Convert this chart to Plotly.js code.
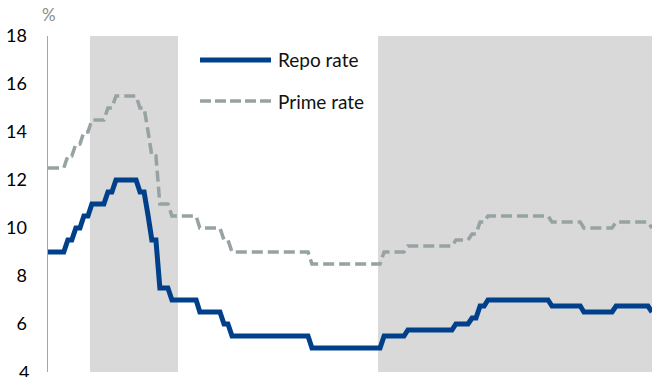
<!DOCTYPE html>
<html>
<head>
<meta charset="utf-8">
<script src="https://cdn.plot.ly/plotly-3.0.1.min.js"></script>
<style>
  html, body { margin: 0; padding: 0; background: #fff; }
  #chart { width: 652px; height: 377px; }
</style>
</head>
<body>
<div id="chart"></div>
<script>
// Monthly series, Jan 2007 – Aug 2019
var startYear = 2007, startMonth = 1;

var repoRate = [
  // 2007
  9, 9, 9, 9, 9, 9.5, 9.5, 10, 10, 10.5, 10.5, 11,
  // 2008
  11, 11, 11, 11.5, 11.5, 12, 12, 12, 12, 12, 12, 11.5,
  // 2009
  11.5, 10.5, 9.5, 9.5, 7.5, 7.5, 7.5, 7, 7, 7, 7, 7,
  // 2010
  7, 7, 6.5, 6.5, 6.5, 6.5, 6.5, 6.5, 6, 6, 5.5, 5.5,
  // 2011
  5.5, 5.5, 5.5, 5.5, 5.5, 5.5, 5.5, 5.5, 5.5, 5.5, 5.5, 5.5,
  // 2012
  5.5, 5.5, 5.5, 5.5, 5.5, 5.5, 5, 5, 5, 5, 5, 5,
  // 2013
  5, 5, 5, 5, 5, 5, 5, 5, 5, 5, 5, 5,
  // 2014
  5.5, 5.5, 5.5, 5.5, 5.5, 5.5, 5.75, 5.75, 5.75, 5.75, 5.75, 5.75,
  // 2015
  5.75, 5.75, 5.75, 5.75, 5.75, 5.75, 6, 6, 6, 6, 6.25, 6.25,
  // 2016
  6.75, 6.75, 7, 7, 7, 7, 7, 7, 7, 7, 7, 7,
  // 2017
  7, 7, 7, 7, 7, 7, 6.75, 6.75, 6.75, 6.75, 6.75, 6.75,
  // 2018
  6.75, 6.75, 6.5, 6.5, 6.5, 6.5, 6.5, 6.5, 6.5, 6.5, 6.75, 6.75,
  // 2019
  6.75, 6.75, 6.75, 6.75, 6.75, 6.75, 6.75, 6.5
];

var primeRate = [
  // 2007
  12.5, 12.5, 12.5, 12.5, 12.5, 13, 13, 13.5, 13.5, 14, 14, 14.5,
  // 2008
  14.5, 14.5, 14.5, 15, 15, 15.5, 15.5, 15.5, 15.5, 15.5, 15.5, 15,
  // 2009
  15, 14, 13, 13, 11, 11, 11, 10.5, 10.5, 10.5, 10.5, 10.5,
  // 2010
  10.5, 10.5, 10, 10, 10, 10, 10, 10, 9.5, 9.5, 9, 9,
  // 2011
  9, 9, 9, 9, 9, 9, 9, 9, 9, 9, 9, 9,
  // 2012
  9, 9, 9, 9, 9, 9, 8.5, 8.5, 8.5, 8.5, 8.5, 8.5,
  // 2013
  8.5, 8.5, 8.5, 8.5, 8.5, 8.5, 8.5, 8.5, 8.5, 8.5, 8.5, 8.5,
  // 2014
  9, 9, 9, 9, 9, 9, 9.25, 9.25, 9.25, 9.25, 9.25, 9.25,
  // 2015
  9.25, 9.25, 9.25, 9.25, 9.25, 9.25, 9.5, 9.5, 9.5, 9.5, 9.75, 9.75,
  // 2016
  10.25, 10.25, 10.5, 10.5, 10.5, 10.5, 10.5, 10.5, 10.5, 10.5, 10.5, 10.5,
  // 2017
  10.5, 10.5, 10.5, 10.5, 10.5, 10.5, 10.25, 10.25, 10.25, 10.25, 10.25, 10.25,
  // 2018
  10.25, 10.25, 10, 10, 10, 10, 10, 10, 10, 10, 10.25, 10.25,
  // 2019
  10.25, 10.25, 10.25, 10.25, 10.25, 10.25, 10.25, 10
];

// Shaded periods (downward phases)
var shadeStarts = ['2007-11-16', '2013-11-16'];
var shadeEnds   = ['2009-09-16', '2019-08-01'];

var yTicks = [4, 6, 8, 10, 12, 14, 16, 18];
var seriesNames = ['Repo rate', 'Prime rate'];

// Month labels
var months = [];
for (var i = 0; i < repoRate.length; i++) {
  var m = startMonth - 1 + i;
  var y = startYear + Math.floor(m / 12);
  var mm = (m % 12) + 1;
  months.push(y + '-' + (mm < 10 ? '0' + mm : mm) + '-01');
}

var BLUE = '#00408A';
var GREY = '#97A2A3';
var FONT = 'Lato, "Open Sans", sans-serif';

// plot area in pixels
var L = 48, R = 652, T = 36, B = 372;
function px(xp) { return (xp - L) / (R - L); }
function py(yp) { return (B - yp) / (B - T); }

var traces = [
  {
    x: months, y: primeRate, type: 'scatter', mode: 'lines', name: seriesNames[1],
    line: { color: GREY, width: 3.5, dash: '11px,5px' }, showlegend: false
  },
  {
    x: months, y: repoRate, type: 'scatter', mode: 'lines', name: seriesNames[0],
    line: { color: BLUE, width: 5 }, showlegend: false
  }
];

var shapes = [];
for (var k = 0; k < shadeStarts.length; k++) {
  shapes.push({
    type: 'rect', xref: 'x', yref: 'paper',
    x0: shadeStarts[k], x1: shadeEnds[k], y0: 0, y1: 1,
    fillcolor: '#D9D9D9', line: { width: 0 }, layer: 'below'
  });
}
// legend lines
shapes.push({ type: 'line', xref: 'paper', yref: 'paper',
  x0: px(200), x1: px(271), y0: py(60), y1: py(60),
  line: { color: BLUE, width: 5 } });
shapes.push({ type: 'line', xref: 'paper', yref: 'paper',
  x0: px(200), x1: px(271), y0: py(101), y1: py(101),
  line: { color: GREY, width: 3.5, dash: '11px,4px' } });

var annotations = [
  { xref: 'paper', yref: 'paper', x: px(276), y: py(60), xanchor: 'left', yanchor: 'middle',
    text: seriesNames[0], showarrow: false, font: { family: FONT, size: 19, color: '#111' } },
  { xref: 'paper', yref: 'paper', x: px(276), y: py(101), xanchor: 'left', yanchor: 'middle',
    text: seriesNames[1], showarrow: false, font: { family: FONT, size: 19, color: '#111' } },
  { xref: 'paper', yref: 'paper', x: px(49), y: py(14), xanchor: 'center', yanchor: 'middle',
    text: '%', showarrow: false, font: { family: FONT, size: 17, color: '#8C8C8C' } },
  // lowest tick label, partly cut by the page edge as in the original
  { xref: 'paper', yref: 'y', x: 0, y: 4, xanchor: 'right', yanchor: 'middle', xshift: -17,
    text: String(yTicks[0]), showarrow: false, font: { family: FONT, size: 18, color: '#000' } }
];

var layout = {
  width: 652, height: 377,
  margin: { l: L, r: 652 - R, t: T, b: 377 - B, pad: 0 },
  paper_bgcolor: '#FFFFFF', plot_bgcolor: '#FFFFFF',
  font: { family: FONT, size: 18, color: '#000' },
  showlegend: false,
  xaxis: {
    type: 'date', range: [months[0], months[months.length - 1]],
    showticklabels: false, ticks: '', showgrid: false, zeroline: false, showline: false
  },
  yaxis: {
    range: [4, 18], tickvals: yTicks.slice(1), ticktext: yTicks.slice(1).map(String),
    ticks: '', ticklabelstandoff: 16,
    showgrid: false, zeroline: false,
    showline: true, linecolor: '#A6A6A6', linewidth: 1.5,
    tickfont: { family: FONT, size: 18, color: '#000' }
  },
  shapes: shapes,
  annotations: annotations
};

Plotly.newPlot('chart', traces, layout, { staticPlot: true, displayModeBar: false });
</script>
</body>
</html>
